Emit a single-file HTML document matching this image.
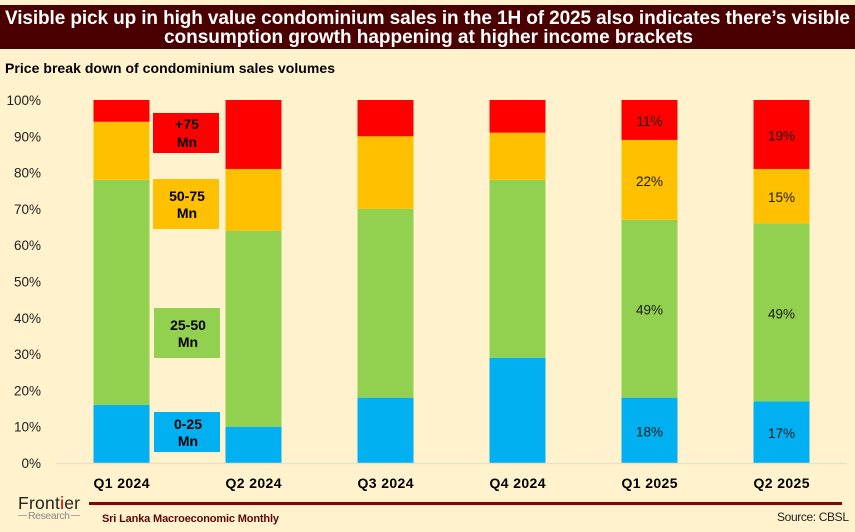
<!DOCTYPE html>
<html lang="en">
<head>
<meta charset="utf-8">
<title>Condominium sales price breakdown</title>
<style>
html,body{margin:0;padding:0;background:#fff2cc;}
svg{display:block;font-family:"Liberation Sans",sans-serif;}
</style>
</head>
<body>
<svg id="chart" xmlns="http://www.w3.org/2000/svg" width="855" height="532" viewBox="0 0 855 532">
  <rect width="855" height="532" fill="#fff2cc"/>
  <rect x="0" y="5" width="855" height="44" fill="#4a0000"/>
  <text x="5" y="24" font-size="19" font-weight="700" fill="#fff" textLength="845" lengthAdjust="spacing">Visible pick up in high value condominium sales in the 1H of 2025 also indicates there’s visible</text>
  <text x="164" y="43" font-size="19" font-weight="700" fill="#fff" textLength="529" lengthAdjust="spacing">consumption growth happening at higher income brackets</text>
  <text x="5" y="73" font-size="14" font-weight="700" fill="#000" textLength="330" lengthAdjust="spacing">Price break down of condominium sales volumes</text>
  <g id="y-axis"></g>
  <g id="bars"></g>
  <line x1="56" y1="463.5" x2="847" y2="463.5" stroke="#e6e0cc" stroke-width="1.5"/>
  <g id="x-axis"></g>
  <g id="legend"></g>

  <text x="18" y="509" font-size="17.5" fill="#222" textLength="62" lengthAdjust="spacing">Front<tspan fill="#c00000">i</tspan>er</text>
  <line x1="18" y1="515.5" x2="27" y2="515.5" stroke="#aaa" stroke-width="1"/>
  <text x="28" y="519" font-size="10.5" fill="#8a8a8a" textLength="42" lengthAdjust="spacing">Research</text>
  <line x1="71" y1="515.5" x2="80" y2="515.5" stroke="#aaa" stroke-width="1"/>
  <rect x="89" y="502" width="753" height="3" fill="#8b0000"/>
  <text x="102" y="522" font-size="11" font-weight="700" fill="#5a0a0a" textLength="177" lengthAdjust="spacing">Sri Lanka Macroeconomic Monthly</text>
  <text x="777" y="521" font-size="12" fill="#222" textLength="72" lengthAdjust="spacing">Source: CBSL</text>
</svg>
<script>
var categories = ["Q1 2024", "Q2 2024", "Q3 2024", "Q4 2024", "Q1 2025", "Q2 2025"];
var band0to25 = [16, 10, 18, 29, 18, 17];
var band25to50 = [62, 54, 52, 49, 49, 49];
var band50to75 = [16, 17, 20, 13, 22, 15];
var band75plus = [6, 19, 10, 9, 11, 19];
var label0to25 = ["", "", "", "", "18%", "17%"];
var label25to50 = ["", "", "", "", "49%", "49%"];
var label50to75 = ["", "", "", "", "22%", "15%"];
var label75plus = ["", "", "", "", "11%", "19%"];
var yTickLabels = ["0%", "10%", "20%", "30%", "40%", "50%", "60%", "70%", "80%", "90%", "100%"];
var yTickValues = [0, 10, 20, 30, 40, 50, 60, 70, 80, 90, 100];

var NS = "http://www.w3.org/2000/svg";
function yScale(v) { return 463 - v * 3.63; }
function xCenter(i) { return 121.5 + i * 132; }
var BAR_WIDTH = 56;
function make(tag, attrs, text) {
  var el = document.createElementNS(NS, tag);
  for (var k in attrs) { el.setAttribute(k, attrs[k]); }
  if (text !== undefined) { el.textContent = text; }
  return el;
}

var yGroup = document.getElementById("y-axis");
yTickValues.forEach(function (v, i) {
  var t = make("text", { x: 41, y: yScale(v) + 5, "font-size": 13.5, fill: "#222", "text-anchor": "end" }, yTickLabels[i]);
  
  
  yGroup.appendChild(t);
});

var stackSeries = [
  { name: "0-25", values: band0to25, labels: label0to25, color: "#00b0f0" },
  { name: "25-50", values: band25to50, labels: label25to50, color: "#92d050" },
  { name: "50-75", values: band50to75, labels: label50to75, color: "#ffc000" },
  { name: "75-plus", values: band75plus, labels: label75plus, color: "#ff0000" }
];

var barGroup = document.getElementById("bars");
var xGroup = document.getElementById("x-axis");
categories.forEach(function (cat, i) {
  var base = 0;
  stackSeries.forEach(function (s) {
    var top = base + s.values[i];
    var r = make("rect", {
      x: xCenter(i) - BAR_WIDTH / 2,
      y: yScale(top),
      width: BAR_WIDTH,
      height: yScale(base) - yScale(top),
      fill: s.color
    });
    
    
    barGroup.appendChild(r);
    if (s.labels[i]) {
      var t = make("text", {
        x: xCenter(i),
        y: yScale((base + top) / 2) + 6,
        "font-size": 13.5,
        fill: "#1a1a1a",
        "text-anchor": "middle"
      }, s.labels[i]);
      
      
      barGroup.appendChild(t);
    }
    base = top;
  });
  var xl = make("text", {
    x: xCenter(i),
    y: 488,
    "font-size": 14,
    "font-weight": 700,
    fill: "#000",
    "text-anchor": "middle",
    textLength: 56,
    lengthAdjust: "spacing"
  }, cat);
  
  
  xGroup.appendChild(xl);
});

var legendNames = ["+75", "50-75", "25-50", "0-25"];
var legendColors = ["#ff0000", "#ffc000", "#92d050", "#00b0f0"];
var legendGroup = document.getElementById("legend");
function addLegend(i, x, y, w, h, y1, y2) {
  var b = make("rect", { x: x, y: y, width: w, height: h, fill: legendColors[i] });
  
  
  legendGroup.appendChild(b);
  var a = make("text", { x: x + w / 2 + 1, y: y1, "font-size": 14, "font-weight": 700, fill: "#000", "text-anchor": "middle" }, legendNames[i]);
  
  
  legendGroup.appendChild(a);
  var m = make("text", { x: x + w / 2 + 1, y: y2, "font-size": 14, "font-weight": 700, fill: "#000", "text-anchor": "middle" }, "Mn");
  
  
  legendGroup.appendChild(m);
}
addLegend(0, 153, 113, 66, 40, 129, 147);
addLegend(1, 153, 179, 66, 50, 201, 218);
addLegend(2, 154, 308, 66, 50, 330, 347);
addLegend(3, 154, 412, 66, 40, 429, 446);
</script>
</body>
</html>
